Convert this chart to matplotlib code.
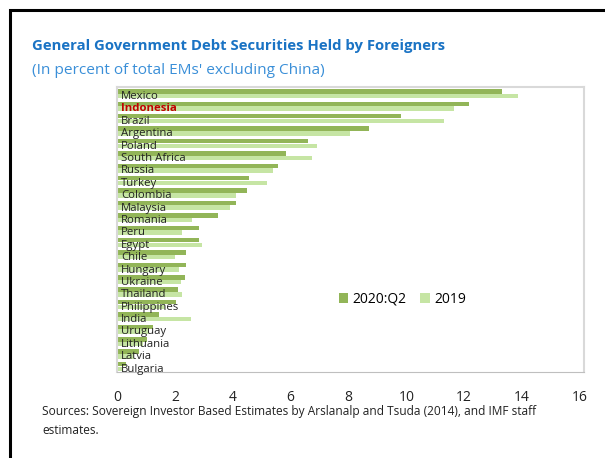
import numpy as np
import matplotlib
matplotlib.use("Agg")
import matplotlib.pyplot as plt
from matplotlib.patches import Rectangle

plt.rcParams['font.family'] = ['Open Sans', 'DejaVu Sans']

countries = ["Mexico", "Indonesia", "Brazil", "Argentina", "Poland", "South Africa",
             "Russia", "Turkey", "Colombia", "Malaysia", "Romania", "Peru", "Egypt",
             "Chile", "Hungary", "Ukraine", "Thailand", "Philippines", "India",
             "Uruguay", "Lithuania", "Latvia", "Bulgaria"]
q2_2020 = [13.3, 12.15, 9.8, 8.7, 6.6, 5.85, 5.55, 4.55, 4.5, 4.1, 3.5, 2.85, 2.85,
           2.4, 2.4, 2.35, 2.1, 2.05, 1.45, 1.25, 1.05, 0.75, 0.3]
y2019 = [13.85, 11.65, 11.3, 8.05, 6.9, 6.75, 5.4, 5.2, 4.1, 3.9, 2.6, 2.25, 2.95,
         2.0, 2.15, 2.2, 2.25, 1.65, 2.55, 1.1, 0.9, 0.6, 0.2]
xticks = [0, 2, 4, 6, 8, 10, 12, 14, 16]

dark = "#92B558"
light = "#C6E5A4"

fig = plt.figure(figsize=(6.05, 4.58), dpi=100)
fig.patches.append(Rectangle((10/605, -0.1), 1.2, (458-10)/458 + 0.1, transform=fig.transFigure,
                             fill=False, edgecolor="black", linewidth=2.2))

ax = fig.add_axes([117/605, 86/458, (584-117)/605, (372-87)/458])
y = np.arange(len(countries))
h = 0.36
ax.barh(y - 0.19, q2_2020, height=h, color=dark, label="2020:Q2")
ax.barh(y + 0.19, y2019, height=h, color=light, label="2019")

for i, name in enumerate(countries):
    if name == "Indonesia":
        ax.text(0.15, i + 0.22, name, va="center", ha="left", fontsize=8.2,
                color="#C00000", fontweight="bold")
    else:
        ax.text(0.15, i + 0.22, name, va="center", ha="left", fontsize=8.2, color="#222222")

ax.set_xlim(0, 16.14)
ax.set_ylim(22.45, -0.55)
ax.set_xticks(xticks)
ax.set_xticklabels([str(t) for t in xticks], fontsize=10, color="#222222")
ax.set_yticks([])
ax.tick_params(axis="x", length=0, pad=13)
for s in ["top", "right", "left"]:
    ax.spines[s].set_color("#D9D9D9")
    ax.spines[s].set_linewidth(1.5)
ax.spines["bottom"].set_color("#BFBFBF")

ax.legend(loc="center left", bbox_to_anchor=(0.448, 0.255), ncol=2, frameon=False,
          fontsize=10, handlelength=0.7, handleheight=0.7, handletextpad=0.3,
          columnspacing=1.0)

fig.text(32/605, 1 - 46/458, "General Government Debt Securities Held by Foreigners",
         fontsize=10.7, fontweight="bold", color="#1A73C4", va="center")
fig.text(32/605, 1 - 71/458, "(In percent of total EMs' excluding China)",
         fontsize=11.1, color="#3A8FD8", va="center")
fig.text(42/605, 1 - 411/458,
         "Sources: Sovereign Investor Based Estimates by Arslanalp and Tsuda (2014), and IMF staff",
         fontsize=8.55, color="#222222", va="center")
fig.text(42/605, 1 - 430/458, "estimates.", fontsize=8.55, color="#222222", va="center")

fig.savefig("out.png", dpi=100)
